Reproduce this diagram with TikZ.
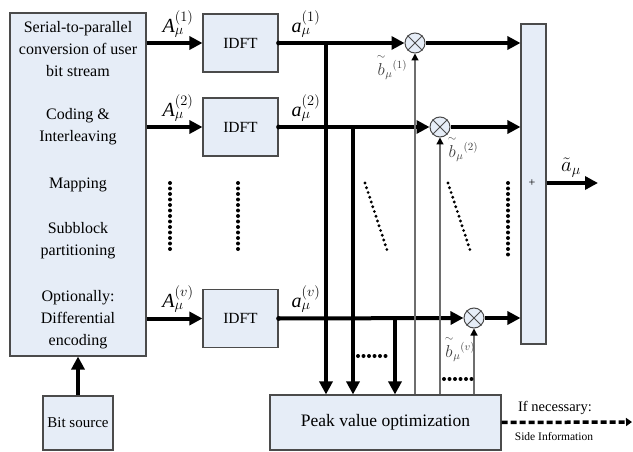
\documentclass[tikz,border=0pt]{standalone}
\usepackage{amsmath}
\usepackage{fontspec}
\setmainfont{Liberation Serif}
\usetikzlibrary{arrows.meta}
\definecolor{boxfill}{RGB}{230,237,247}
\definecolor{boxedge}{RGB}{75,75,75}
\definecolor{thinline}{RGB}{110,110,110}
\newcommand{\btil}{\overset{\sim}{b}}
\begin{document}
\begin{tikzpicture}[x=1pt,y=-1pt,
  blk/.style={draw=boxedge,fill=boxfill,line width=1.1pt,inner sep=0pt},
  txt/.style={align=center,font=\fontsize{16}{22}\selectfont,inner sep=0pt},
  idftbox/.style={blk,minimum width=75,minimum height=58,font=\fontsize{15.5}{17}\selectfont},
  bus/.style={line width=4pt,-{Triangle[length=13pt,width=13pt]}},
  fb/.style={draw=thinline,line width=1.3pt,-{Triangle[length=7pt,width=7pt,color=black]}},
  mult/.style={circle,draw=boxedge,fill=boxfill,line width=1pt,minimum size=20,inner sep=0pt},
  sym/.style={font=\fontsize{20}{22}\selectfont,inner sep=0pt},
  bsym/.style={font=\fontsize{16}{18}\selectfont,inner sep=0pt,text=black!75},
  dots/.style={line width=4pt,line cap=round,dash pattern=on 0pt off 5.5pt},
  fdots/.style={line width=3.2pt,line cap=round,dash pattern=on 0pt off 5pt},
  sdash/.style={line width=3.5pt,dash pattern=on 6pt off 3pt,-{Triangle[length=6pt,width=8pt]}}
]
\useasboundingbox (0,0) rectangle (633,452);

% processing chain on the left
\node[blk,minimum width=136,minimum height=343] (src) at (78,184.5) {};
\node[txt] (l1) at (78,49) {Serial-to-parallel\\conversion of user\\bit stream};
\node[txt] (l2) at (78,127) {Coding \&\\Interleaving};
\node[txt] (l3) at (78,185) {Mapping};
\node[txt] (l4) at (78,241) {Subblock\\partitioning};
\node[txt] (l5) at (78,320) {Optionally:\\Differential\\encoding};

\node[blk,minimum width=70,minimum height=54,font=\fontsize{15}{17}\selectfont] (bits) at (78,423) {Bit source};
\draw[bus] (bits.north) -- (src.south);

% IDFT branches
\node[idftbox] (idft1) at (240.5,43) {IDFT};
\node[idftbox] (idft2) at (240.5,127) {IDFT};
\node[idftbox] (idft3) at (240.5,318.5) {IDFT};

\draw[bus] (src.east |- idft1) -- (idft1.west);
\draw[bus] (src.east |- idft2) -- (idft2.west);
\draw[bus] (src.east |- idft3) -- (idft3.west);

\node[sym] (A1) at (178,24) {$\textit{A}_{\mu}^{(1)}$};
\node[sym] (A2) at (178,108) {$\textit{A}_{\mu}^{(2)}$};
\node[sym] (A3) at (178,299) {$\textit{A}_{\mu}^{(v)}$};

% multipliers
\node[mult] (m1) at (415,43) {};
\node[mult] (m2) at (440,127) {};
\node[mult] (m3) at (474,318) {};
\foreach \m in {m1,m2,m3}{
  \draw[boxedge,line width=1pt] (\m.north east) -- (\m.south west) (\m.north west) -- (\m.south east);
}

\foreach \i/\m in {1/m1,2/m2,3/m3}{
  \fill (idft\i.east) circle (2.4);
  \draw[bus] (idft\i.east) -- (\m.west);
}

\node[sym] (a1) at (306,24) {$\textit{a}_{\mu}^{(1)}$};
\node[sym] (a2) at (306,108) {$\textit{a}_{\mu}^{(2)}$};
\node[sym] (a3) at (306,299) {$\textit{a}_{\mu}^{(v)}$};

% summation
\node[blk,minimum width=25,minimum height=320] (sum) at (533.5,184) {};
\node[font=\fontsize{12}{14}\selectfont,inner sep=0pt] (plus) at (532,183) {+};
\draw[bus] (m1.east) -- (sum.west |- m1);
\draw[bus] (m2.east) -- (sum.west |- m2);
\draw[bus] (m3.east) -- (sum.west |- m3);

\coordinate (out) at (598,183);
\draw[bus] (sum.east |- out) -- (out);
\node[sym] (at) at (571,168) {$\tilde{a}_{\mu}$};

% peak value optimization
\node[blk,minimum width=231,minimum height=55,font=\fontsize{17.5}{19}\selectfont] (peak) at (385.5,422.5) {Peak value optimization};

\coordinate (j1) at (326,43);
\coordinate (j2) at (353,127);
\coordinate (j3) at (395,318);
\draw[bus] (j1) -- (j1 |- peak.north);
\draw[bus] (j2) -- (j2 |- peak.north);
\draw[bus] (j3) -- (j3 |- peak.north);

\draw[fb] (peak.north -| m1) -- (m1.south);
\draw[fb] (peak.north -| m2) -- (m2.south);
\draw[fb] (peak.north -| m3) -- (m3.south);

\node[bsym] (b1) at (392,67) {$\btil_{\mu}{}^{(1)}$};
\node[bsym] (b2) at (463,149) {$\btil_{\mu}{}^{(2)}$};
\node[bsym] (b3) at (460,349) {$\btil_{\mu}{}^{(v)}$};

% continuation dots
\draw[dots] (170,183) -- (170,251);
\draw[dots] (238,183) -- (238,251);
\draw[fdots] (365,183) -- (388,253);
\draw[fdots] (448,183) -- (471,253);
\draw[dots] (508,183) -- (508,258);
\draw[dots] (358,356) -- (388,356);
\draw[dots] (444,379) -- (472,379);

% side information
\coordinate (si) at (632,422);
\draw[sdash] (peak.east) -- (si);
\node[font=\fontsize{14.5}{16}\selectfont,inner sep=0pt] (ifn) at (555,408) {If necessary:};
\node[font=\fontsize{11.5}{13}\selectfont,inner sep=0pt] (side) at (554,437) {Side Information};
\end{tikzpicture}
\end{document}
